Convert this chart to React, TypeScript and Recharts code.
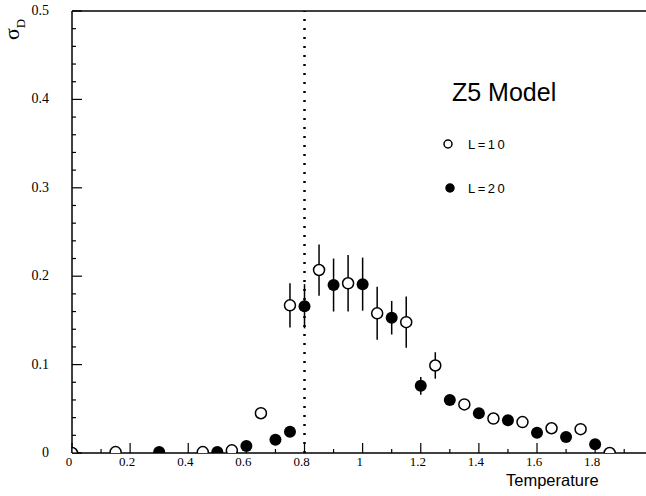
import {
  ScatterChart,
  Scatter,
  XAxis,
  YAxis,
  ErrorBar,
  ReferenceLine,
  Legend,
} from "recharts";

// L=10 (open circles)
const tempL10 = [0, 0.15, 0.45, 0.55, 0.65, 0.75, 0.85, 0.95, 1.05, 1.15, 1.25, 1.35, 1.45, 1.55, 1.65, 1.75, 1.85];
const sigmaL10 = [0, 0.001, 0.001, 0.003, 0.045, 0.167, 0.207, 0.192, 0.158, 0.148, 0.099, 0.055, 0.039, 0.035, 0.028, 0.027, 0];
const errL10 = [0, 0, 0, 0, 0, 0.025, 0.029, 0.032, 0.03, 0.029, 0.015, 0, 0, 0, 0, 0, 0];

// L=20 (filled circles)
const tempL20 = [0.3, 0.5, 0.6, 0.7, 0.75, 0.8, 0.9, 1.0, 1.1, 1.2, 1.3, 1.4, 1.5, 1.6, 1.7, 1.8];
const sigmaL20 = [0.001, 0.001, 0.008, 0.015, 0.024, 0.166, 0.19, 0.191, 0.153, 0.076, 0.06, 0.045, 0.037, 0.023, 0.018, 0.01];
const errL20 = [0, 0, 0, 0, 0, 0.025, 0.03, 0.03, 0.019, 0.01, 0, 0, 0, 0, 0, 0];

const xMajor = [0, 0.2, 0.4, 0.6, 0.8, 1, 1.2, 1.4, 1.6, 1.8];
const yMajor = [0, 0.1, 0.2, 0.3, 0.4, 0.5];
const criticalT = 0.8;

// minor ticks: every 0.1 on x, every 0.02 on y
const xTicks: number[] = [];
for (let i = 0; i <= 19; i++) xTicks.push(i / 10);
const yTicks: number[] = [];
for (let i = 0; i <= 25; i++) yTicks.push(i / 50);

const l10 = tempL10.map((t, i) => ({ t, s: sigmaL10[i], e: errL10[i] }));
const l20 = tempL20.map((t, i) => ({ t, s: sigmaL20[i], e: errL20[i] }));

const serif = "'Liberation Serif', 'DejaVu Serif', serif";
const sans = "'Liberation Sans', Arial, sans-serif";

const isIn = (v: number, list: number[]) => list.some((m) => Math.abs(m - v) < 1e-6);
const fmt = (v: number) => String(Math.round(v * 10) / 10);

function XTick(props: any) {
  const { x, y, payload } = props;
  const major = isIn(payload.value, xMajor);
  return (
    <g>
      <line x1={x} x2={x} y1={y} y2={y - (major ? 10 : 4)} stroke="#000" strokeWidth={1.2} />
      {major && (
        <text x={x - 3} y={y + 13} textAnchor="middle" fontFamily={serif} fontSize={13} fill="#000">
          {fmt(payload.value)}
        </text>
      )}
    </g>
  );
}

function YTick(props: any) {
  const { x, y, payload } = props;
  const major = isIn(payload.value, yMajor);
  return (
    <g>
      <line x1={x} x2={x + (major ? 10 : 4)} y1={y} y2={y} stroke="#000" strokeWidth={1.2} />
      {major && (
        <text x={x - 23} y={y + 4} textAnchor="end" fontFamily={serif} fontSize={14} fill="#000">
          {fmt(payload.value)}
        </text>
      )}
    </g>
  );
}

const OpenDot = (p: any) => (
  <circle cx={p.cx} cy={p.cy} r={5.5} fill="#fff" stroke="#000" strokeWidth={1.5} />
);
const FilledDot = (p: any) => <circle cx={p.cx} cy={p.cy} r={6} fill="#000" />;

function Key(props: any) {
  const payload = props.payload || [];
  return (
    <svg width={200} height={140}>
      <text x={12} y={31} fontFamily={sans} fontSize={25} fill="#000">
        Z5 Model
      </text>
      {payload.map((entry: any, i: number) => {
        const cy = 74 + i * 44;
        const open = entry.value === "L=10";
        return (
          <g key={i}>
            <circle
              cx={8 + i * 2}
              cy={cy}
              r={4}
              fill={open ? "#fff" : "#000"}
              stroke="#000"
              strokeWidth={1.5}
            />
            <text x={28} y={cy + 5} fontFamily={sans} fontSize={13} letterSpacing={2.5} fill="#000">
              {entry.value}
            </text>
          </g>
        );
      })}
    </svg>
  );
}

export default function App() {
  return (
    <div style={{ position: "absolute", left: 0, top: 0, background: "#fff" }}>
      <ScatterChart width={646} height={496} margin={{ top: 11, right: 0, bottom: 0, left: 0 }}>
        <XAxis
          type="number"
          dataKey="t"
          domain={[0, 1.975]}
          allowDataOverflow
          ticks={xTicks}
          interval={0}
          tick={<XTick />}
          tickSize={0}
          tickMargin={0}
          height={43}
          axisLine={{ stroke: "#000", strokeWidth: 1.5 }}
        />
        <YAxis
          type="number"
          dataKey="s"
          domain={[0, 0.5]}
          allowDataOverflow
          ticks={yTicks}
          interval={0}
          tick={<YTick />}
          tickSize={0}
          tickMargin={0}
          width={72}
          axisLine={{ stroke: "#000", strokeWidth: 1.5 }}
        />
        <ReferenceLine y={0.5} stroke="#000" strokeWidth={1.5} />
        <ReferenceLine x={criticalT} stroke="#000" strokeWidth={2.5} strokeDasharray="2 7" />
        <Legend
          layout="vertical"
          align="center"
          verticalAlign="middle"
          content={<Key />}
          wrapperStyle={{ left: 440, top: 70, width: 200, height: 140 }}
        />
        <Scatter name="L=10" data={l10} shape={OpenDot} fill="#fff" isAnimationActive={false}>
          <ErrorBar dataKey="e" direction="y" width={0} stroke="#000" strokeWidth={1.5} />
        </Scatter>
        <Scatter name="L=20" data={l20} shape={FilledDot} fill="#000" isAnimationActive={false}>
          <ErrorBar dataKey="e" direction="y" width={0} stroke="#000" strokeWidth={1.5} />
        </Scatter>
        <text x={506} y={486} fontFamily={sans} fontSize={16.5} fill="#000">
          Temperature
        </text>
        <text x={19} y={40} transform="rotate(-90 19 40)" fontFamily={serif} fontSize={22} fill="#000">
          σ
          <tspan dy={6} fontSize={13}>
            D
          </tspan>
        </text>
      </ScatterChart>
    </div>
  );
}
